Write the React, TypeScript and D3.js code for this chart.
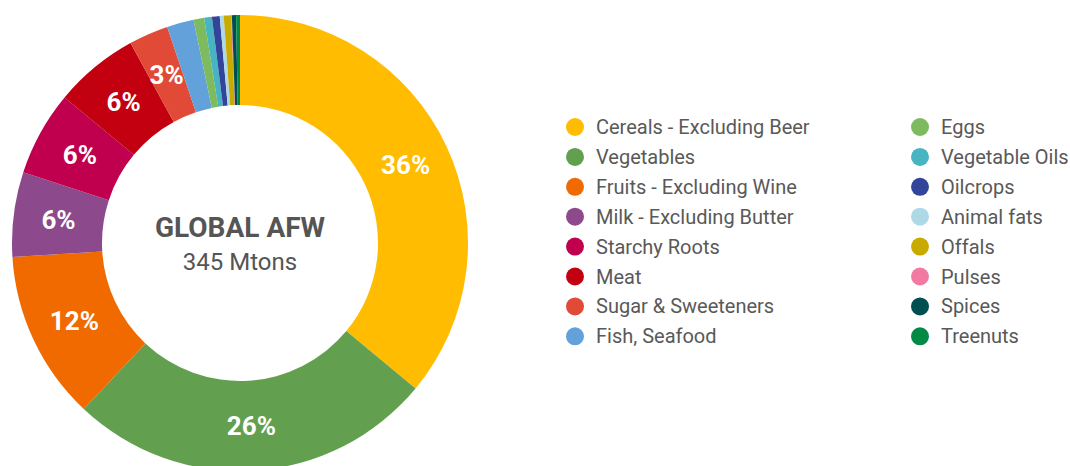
import React from "react";
import * as d3 from "d3";

const categories = [
  "Cereals - Excluding Beer",
  "Vegetables",
  "Fruits - Excluding Wine",
  "Milk - Excluding Butter",
  "Starchy Roots",
  "Meat",
  "Sugar & Sweeteners",
  "Fish, Seafood",
  "Eggs",
  "Vegetable Oils",
  "Oilcrops",
  "Animal fats",
  "Offals",
  "Pulses",
  "Spices",
  "Treenuts",
];

const shares = [36, 26, 12, 6, 6, 6, 2.8, 1.9, 0.75, 0.55, 0.55, 0.28, 0.52, 0.05, 0.3, 0.27];

const labels = ["36%", "26%", "12%", "6%", "6%", "6%", "3%", "", "", "", "", "", "", "", "", ""];

const colors = [
  "#FFBC00",
  "#62A04F",
  "#F06A00",
  "#8C4A8C",
  "#C0004F",
  "#C20010",
  "#E04A37",
  "#62A1D9",
  "#7DBB5E",
  "#47B5C1",
  "#33459B",
  "#ADD8E6",
  "#C9AB00",
  "#F27AA2",
  "#004F50",
  "#008A45",
];

const centerTitle = "GLOBAL AFW";
const centerSub = "345 Mtons";

export default function App() {
  const cx = 240;
  const cy = 243;
  const outerR = 228;
  const innerR = 138;

  const data = categories.map((c, i) => ({ name: c, value: shares[i], label: labels[i], color: colors[i] }));
  const pie = d3
    .pie<any>()
    .sort(null)
    .value((d) => d.value)
    .startAngle(0)
    .endAngle(2 * Math.PI);
  const arcs = pie(data);
  const arc = d3.arc<any>().innerRadius(innerR).outerRadius(outerR);
  const labelArc = d3.arc<any>().innerRadius((innerR + outerR) / 2).outerRadius((innerR + outerR) / 2);

  const font = "Roboto, 'Noto Sans', sans-serif";
  const textColor = "#595959";
  const rowH = 29.9;
  const legendTop = 127;
  const cols = [575, 920];

  return (
    <svg
      width={1070}
      height={466}
      style={{ position: "absolute", left: 0, top: 0, background: "#fff" }}
    >
      <g transform={`translate(${cx},${cy})`}>
        {arcs.map((a, i) => (
          <path key={i} d={arc(a) as string} fill={a.data.color} />
        ))}
        {arcs.map((a, i) => {
          if (!a.data.label) return null;
          const [x, y] = labelArc.centroid(a);
          return (
            <text
              key={"l" + i}
              x={x}
              y={y}
              textAnchor="middle"
              dominantBaseline="central"
              fill="#fff"
              fontFamily={font}
              fontWeight="bold"
              fontSize={26}
            >
              {a.data.label}
            </text>
          );
        })}
        <text
          x={0}
          y={-6}
          textAnchor="middle"
          fill="#555"
          fontFamily={font}
          fontWeight="bold"
          fontSize={28}
        >
          {centerTitle}
        </text>
        <text x={0} y={27} textAnchor="middle" fill="#555" fontFamily={font} fontSize={24}>
          {centerSub}
        </text>
      </g>
      {data.map((d, i) => {
        const col = Math.floor(i / 8);
        const row = i % 8;
        const x = cols[col];
        const y = legendTop + row * rowH;
        return (
          <g key={"lg" + i}>
            <circle cx={x} cy={y} r={9} fill={d.color} />
            <text
              x={x + 21}
              y={y}
              dominantBaseline="central"
              fill={textColor}
              fontFamily={font}
              fontSize={20}
            >
              {d.name}
            </text>
          </g>
        );
      })}
    </svg>
  );
}
